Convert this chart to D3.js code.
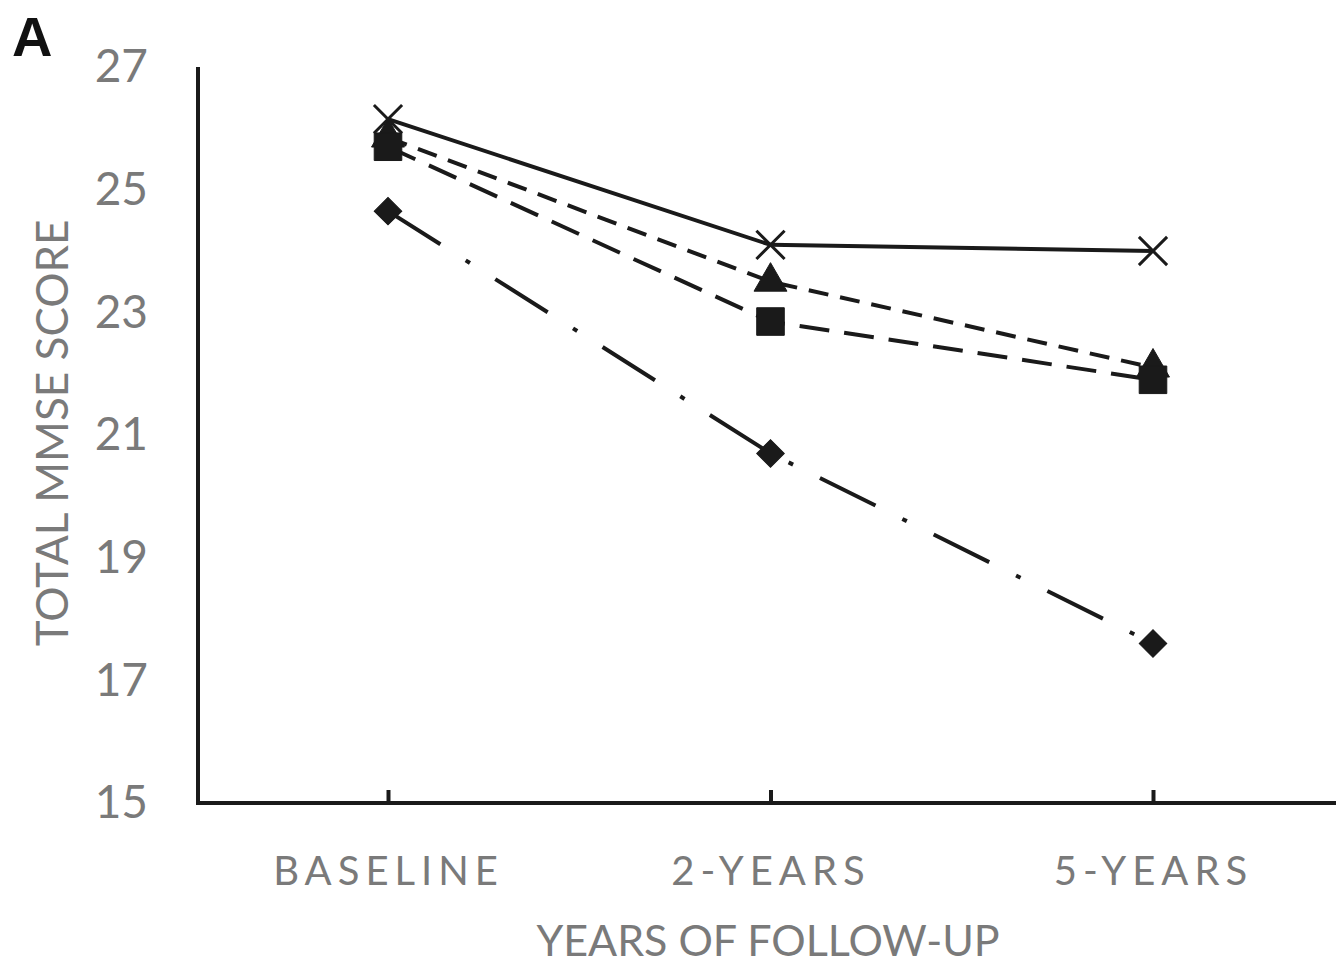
<!DOCTYPE html>
<html>
<head>
<meta charset="utf-8">
<script src="https://cdn.jsdelivr.net/npm/d3@7"></script>
<style>
  body { margin: 0; background: #fff; }
  svg text { font-family: Lato, "Open Sans", sans-serif; }
</style>
</head>
<body>
<div id="chart"></div>
<script>
// chart data
const categories = ['BASELINE', '2-YEARS', '5-YEARS'];
const yTicks = [15, 17, 19, 21, 23, 25, 27];
const seriesCross = [26.15, 24.1, 24.0];
const seriesTriangle = [25.85, 23.5, 22.1];
const seriesSquare = [25.7, 22.85, 21.9];
const seriesDiamond = [24.65, 20.7, 17.6];

// drawing order: triangles sit under squares, crosses on top
const series = [
    {values: seriesTriangle, symbol: d3.symbolTriangle, size: 470, rotate: 0, dash: '20,12', filled: true},
    {values: seriesSquare, symbol: d3.symbolSquare, size: 760, rotate: 0, dash: '30,15', filled: true},
    {values: seriesDiamond, symbol: d3.symbolSquare, size: 380, rotate: 45, dash: '62,30,5,30', filled: true},
    {values: seriesCross, symbol: d3.symbolX, size: 520, rotate: 0, dash: null, filled: false}
];

const W = 1336, H = 967;
const plotLeft = 198, plotBottom = 803, plotTop = 67;

const svg = d3.select('#chart')
    .append('svg')
    .attr('width', W)
    .attr('height', H);

// scales
const x = d3.scalePoint()
    .domain(categories)
    .range([388, 1153]);
const y = d3.scaleLinear()
    .domain([15, 27])
    .range([plotBottom, plotTop]);

// y axis
const yAxis = svg.append('g')
    .attr('transform', `translate(${plotLeft},0)`)
    .call(d3.axisLeft(y).tickValues(yTicks).tickSize(0).tickPadding(50));
yAxis.select('.domain').remove();
yAxis.selectAll('text')
    .attr('fill', '#7a7a7a')
    .style('font-size', '46px');
svg.append('line')
    .attr('x1', plotLeft).attr('x2', plotLeft)
    .attr('y1', plotTop).attr('y2', plotBottom)
    .attr('stroke', '#1a1a1a')
    .attr('stroke-width', 4);

// x axis
const xAxis = svg.append('g')
    .attr('transform', `translate(0,${plotBottom})`)
    .call(d3.axisBottom(x).tickSizeInner(-13).tickSizeOuter(0).tickPadding(54));
xAxis.select('.domain').remove();
xAxis.selectAll('.tick line')
    .attr('stroke', '#1a1a1a')
    .attr('stroke-width', 4);
xAxis.selectAll('text')
    .attr('fill', '#7a7a7a')
    .style('font-size', '40px')
    .style('letter-spacing', '6px');
svg.append('line')
    .attr('x1', plotLeft - 2).attr('x2', W)
    .attr('y1', plotBottom).attr('y2', plotBottom)
    .attr('stroke', '#1a1a1a')
    .attr('stroke-width', 4);

// axis titles
svg.append('text')
    .attr('x', 768)
    .attr('y', 956)
    .attr('text-anchor', 'middle')
    .attr('fill', '#7a7a7a')
    .style('font-size', '43px')
    .text('YEARS OF FOLLOW-UP');

svg.append('text')
    .attr('transform', 'translate(68,433) rotate(-90)')
    .attr('text-anchor', 'middle')
    .attr('fill', '#7a7a7a')
    .style('font-size', '44px')
    .text('TOTAL MMSE SCORE');

// panel letter
svg.append('text')
    .attr('x', 12)
    .attr('y', 56)
    .attr('fill', '#111')
    .style('font-size', '56px')
    .style('font-weight', 'bold')
    .style('font-family', '"Liberation Sans", Arial, sans-serif')
    .text('A');

// lines
const line = d3.line()
    .x((d, i) => x(categories[i]))
    .y(d => y(d));

series.forEach(s => {
    svg.append('path')
        .datum(s.values)
        .attr('fill', 'none')
        .attr('stroke', '#1a1a1a')
        .attr('stroke-width', 4)
        .attr('stroke-dasharray', s.dash)
        .attr('d', line);
});

// markers
series.forEach(s => {
    svg.append('g')
        .selectAll('path')
        .data(s.values)
        .join('path')
        .attr('transform', (d, i) => `translate(${x(categories[i])},${y(d)}) rotate(${s.rotate})`)
        .attr('d', d3.symbol().type(s.symbol).size(s.size))
        .attr('fill', s.filled ? '#1a1a1a' : 'none')
        .attr('stroke', '#1a1a1a')
        .attr('stroke-width', s.filled ? 1 : 3);
});
</script>
</body>
</html>
